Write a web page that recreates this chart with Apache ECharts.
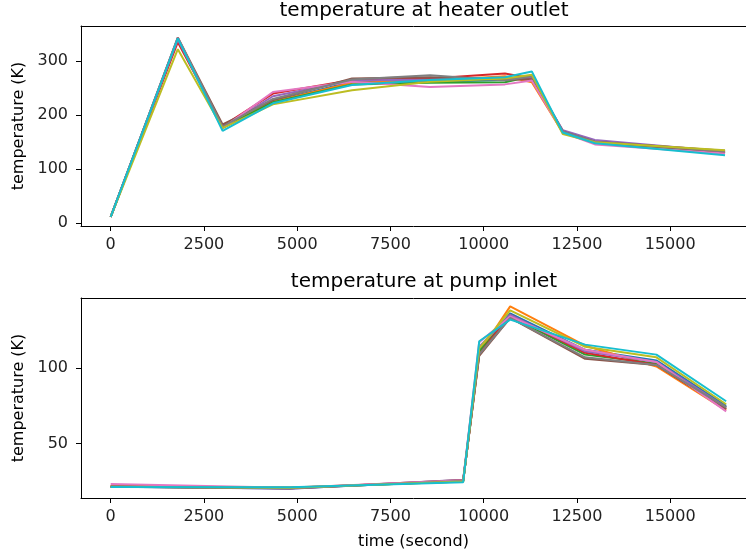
<!DOCTYPE html>
<html>
<head>
<meta charset="utf-8">
<script src="https://cdn.jsdelivr.net/npm/echarts@6.0.0/dist/echarts.min.js"></script>
<style>
  html, body { margin: 0; padding: 0; background: #fff; overflow: hidden; }
  #chart { width: 746px; height: 559px; }
</style>
</head>
<body>
<div id="chart"></div>
<script>
// tab10 colours, one per run
const colors = ['#1f77b4', '#ff7f0e', '#2ca02c', '#d62728', '#9467bd',
  '#8c564b', '#e377c2', '#7f7f7f', '#bcbd22', '#17becf'];

const xTicks = [0, 2500, 5000, 7500, 10000, 12500, 15000];

// heater outlet: sample times (s) and one row per run (K)
const heaterTime = [0, 1800, 3000, 4350, 6470, 8560, 10570, 11290, 12120, 12980, 16470];
const heaterTemp = [
  [12, 342, 176, 226, 262, 262, 265, 270, 170, 150, 130],
  [12, 340, 178, 225, 260, 264, 272, 261, 168, 149, 131],
  [12, 341, 177, 224, 257, 260, 261, 272, 169, 150, 130],
  [12, 335, 180, 240, 265, 268, 277, 268, 171, 152, 132],
  [12, 340, 177, 235, 264, 266, 268, 270, 172, 154, 133],
  [12, 344, 183, 228, 268, 270, 266, 266, 170, 151, 134],
  [12, 343, 176, 243, 262, 252, 257, 264, 168, 146, 129],
  [12, 343, 179, 230, 266, 274, 264, 272, 170, 151, 133],
  [12, 322, 176, 220, 246, 262, 268, 275, 165, 150, 135],
  [12, 342, 171, 222, 256, 265, 270, 281, 168, 148, 126]
];

// pump inlet: sample times (s) and one row per run (K)
const pumpTime = [0, 4810, 9450, 9880, 10710, 12720, 14630, 16500];
const pumpTemp = [
  [21.6, 20.4, 25.5, 112, 136, 112, 105, 75],
  [21.8, 21.0, 25.2, 110, 140.7, 114.7, 101, 72],
  [21.6, 20.8, 25.0, 111, 134, 108.8, 103, 74],
  [21.8, 20.6, 25.6, 109, 135, 110, 102, 73],
  [21.7, 20.2, 26.2, 114, 135, 111, 104, 74],
  [21.6, 20.5, 26.0, 108, 133, 106, 102, 73],
  [23.4, 20.9, 25.8, 117, 134, 112, 104, 71.3],
  [21.7, 20.6, 25.4, 109, 133, 107, 102, 74],
  [21.6, 20.8, 25.0, 113, 138, 114, 107, 76],
  [21.4, 21.2, 24.5, 117.6, 131.9, 115.4, 108.8, 78]
];

const font = 'DejaVu Sans';
const tickFs = 16;
const titleFs = 20;
// the figure is cut at its right edge, so the visible x range stops short of the axes box
const xMin = -796;
const xMax = 17032;

function xAxisFor(gridIndex, name) {
  return {
    type: 'value', gridIndex, min: xMin, max: xMax,
    name: name, nameLocation: 'middle', nameGap: 36,
    nameTextStyle: { fontFamily: font, fontSize: tickFs, color: '#000' },
    splitLine: { show: false },
    axisLine: { onZero: false, lineStyle: { color: '#000', width: 1 } },
    axisTick: { length: 5, inside: false, customValues: xTicks, lineStyle: { color: '#000' } },
    axisLabel: { customValues: xTicks, margin: 11, fontFamily: font, fontSize: tickFs, color: '#222',
      formatter: v => String(v) }
  };
}

// top spine only
function topSpine(gridIndex) {
  return {
    type: 'value', gridIndex, position: 'top', min: xMin, max: xMax,
    splitLine: { show: false },
    axisLine: { show: true, onZero: false, lineStyle: { color: '#000', width: 1 } },
    axisTick: { show: false }, axisLabel: { show: false }
  };
}

function yAxisFor(gridIndex, min, max, ticks) {
  return {
    type: 'value', gridIndex, min, max,
    name: 'temperature (K)', nameLocation: 'middle', nameGap: 52,
    nameTextStyle: { fontFamily: font, fontSize: tickFs, color: '#000' },
    splitLine: { show: false },
    axisLine: { show: true, onZero: false, lineStyle: { color: '#000', width: 1 } },
    axisTick: { show: true, length: 5, customValues: ticks, lineStyle: { color: '#000' } },
    axisLabel: { customValues: ticks, margin: 13, fontFamily: font, fontSize: tickFs, color: '#222',
      formatter: v => String(v) }
  };
}

function lines(times, rows, idx) {
  return rows.map((row, i) => ({
    type: 'line', xAxisIndex: idx, yAxisIndex: idx,
    data: row.map((v, j) => [times[j], v]),
    showSymbol: false, symbol: 'none', animation: false,
    lineStyle: { color: colors[i], width: 2 },
    itemStyle: { color: colors[i] },
    z: 2 + i
  }));
}

const chart = echarts.init(document.getElementById('chart'));
chart.setOption({
  animation: false,
  title: [
    { text: 'temperature at heater outlet', left: 419, top: -4, textAlign: 'center',
      textStyle: { fontFamily: font, fontSize: titleFs, fontWeight: 'normal', color: '#000' } },
    { text: 'temperature at pump inlet', left: 419, top: 267, textAlign: 'center',
      textStyle: { fontFamily: font, fontSize: titleFs, fontWeight: 'normal', color: '#000' } }
  ],
  grid: [
    { left: 81, right: 0, top: 26, height: 200 },
    { left: 81, right: 0, top: 298, height: 200 }
  ],
  xAxis: [xAxisFor(0, ''), xAxisFor(1, 'time (second)'), topSpine(0), topSpine(1)],
  yAxis: [yAxisFor(0, -5, 365, [0, 100, 200, 300]), yAxisFor(1, 14.1, 146.2, [50, 100])],
  series: [...lines(heaterTime, heaterTemp, 0), ...lines(pumpTime, pumpTemp, 1)]
});
</script>
</body>
</html>
